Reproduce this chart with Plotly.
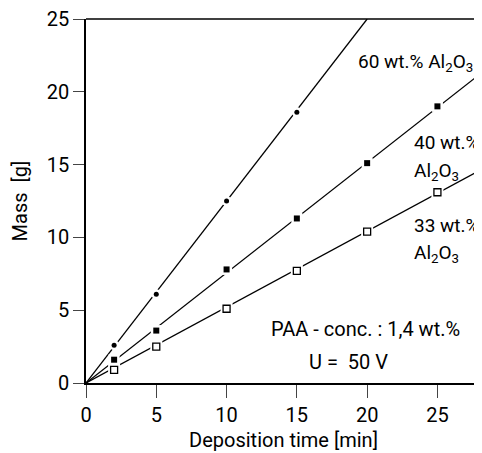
import plotly.graph_objects as go

# Measured points
time = [2, 5, 10, 15, 20, 25]
mass60_t = [2, 5, 10, 15]
mass60 = [2.6, 6.1, 12.5, 18.6]
mass40 = [1.6, 3.6, 7.8, 11.3, 15.1, 19.0]
mass33 = [0.9, 2.5, 5.1, 7.7, 10.4, 13.1]

# Fitted lines (start, end)
fit60_t = [0, 20]
fit60 = [0, 25]
fit40_t = [0, 28]
fit40 = [0, 21.2]
fit33_t = [0, 28]
fit33 = [0, 14.6]

x_ticks = [0, 5, 10, 15, 20, 25]
y_ticks = [0, 5, 10, 15, 20, 25]

FONT = "Roboto"
fig = go.Figure()

for fx, fy in [(fit60_t, fit60), (fit40_t, fit40), (fit33_t, fit33)]:
    fig.add_trace(go.Scatter(x=fx, y=fy, mode="lines",
                             line=dict(color="black", width=1.3),
                             showlegend=False, hoverinfo="skip"))

# white halos to break the lines around markers
for mx, my, sym, sz in [(mass60_t, mass60, "circle", 10),
                         (time, mass40, "square", 11),
                         (time, mass33, "square", 12)]:
    fig.add_trace(go.Scatter(x=mx, y=my, mode="markers",
                             marker=dict(symbol=sym, size=sz, color="white"),
                             showlegend=False, hoverinfo="skip"))

fig.add_trace(go.Scatter(x=mass60_t, y=mass60, mode="markers",
                         marker=dict(symbol="circle", size=5, color="black"),
                         showlegend=False))
fig.add_trace(go.Scatter(x=time, y=mass40, mode="markers",
                         marker=dict(symbol="square", size=6, color="black"),
                         showlegend=False))
fig.add_trace(go.Scatter(x=time, y=mass33, mode="markers",
                         marker=dict(symbol="square", size=7, color="white",
                                     line=dict(color="black", width=1.3)),
                         showlegend=False))

small = dict(family=FONT, size=19, color="black")
big = dict(family=FONT, size=20, color="black")
annotations = [
    dict(x=19.2, y=22.0, text="60 wt.% Al<sub>2</sub>O<sub>3</sub>", xanchor="left", font=small),
    dict(x=23.2, y=16.5, text="40 wt.%", xanchor="left", font=small),
    dict(x=23.2, y=14.5, text="Al<sub>2</sub>O<sub>3</sub>", xanchor="left", font=small),
    dict(x=23.2, y=10.85, text="33 wt.%", xanchor="left", font=small),
    dict(x=23.2, y=8.9, text="Al<sub>2</sub>O<sub>3</sub>", xanchor="left", font=small),
    dict(x=19.9, y=3.7, text="PAA - conc. : 1,4 wt.%", xanchor="center", font=big),
    dict(x=18.7, y=1.45, text="U =  50 V", xanchor="center", font=big),
]
for a in annotations:
    fig.add_annotation(showarrow=False, yanchor="middle", **a)

fig.add_shape(type="line", xref="paper", yref="paper", x0=1, x1=1, y0=0, y1=1,
              line=dict(color="black", width=1, dash="dot"))
fig.add_shape(type="line", xref="paper", yref="paper", x0=0, x1=1, y0=1, y1=1,
              line=dict(color="black", width=1.5))

fig.update_layout(
    width=482, height=453,
    margin=dict(l=78, r=9, t=11, b=78, autoexpand=False),
    plot_bgcolor="white", paper_bgcolor="white",
    font=dict(family=FONT, size=20, color="black"),
    xaxis=dict(range=[0, 28.1], tickvals=x_ticks, ticks="outside", ticklen=13,
               tickwidth=1.3, linecolor="black", linewidth=1.5, showgrid=False,
               zeroline=False, showline=True, automargin=False,
               ticklabeloverflow="allow",
               title=dict(text="Deposition time [min]", standoff=7,
                          font=dict(size=20))),
    yaxis=dict(range=[0, 25], tickvals=y_ticks, ticks="outside", ticklen=11,
               tickwidth=1.3, linecolor="black", linewidth=1.5, showgrid=False,
               zeroline=False, showline=True, automargin=False,
               ticklabeloverflow="allow",
               title=dict(text="Mass  [g]", standoff=26, font=dict(size=20))),
)

fig.write_html("out.html")
